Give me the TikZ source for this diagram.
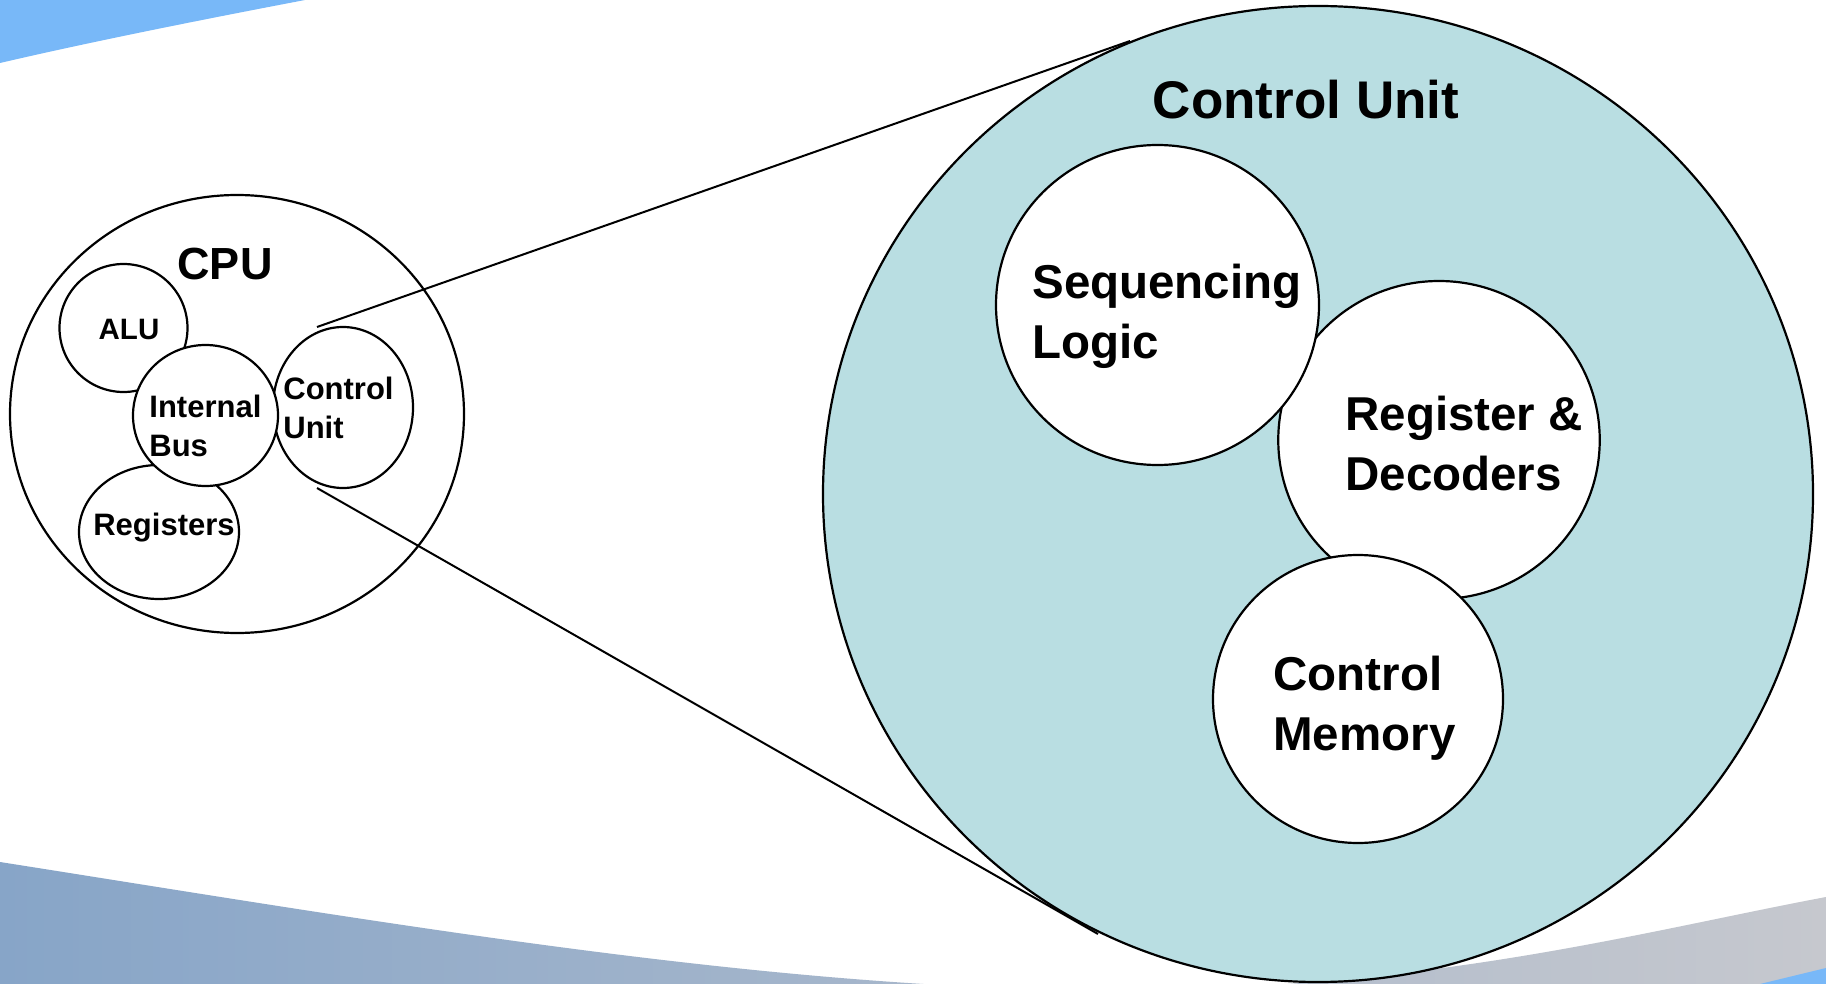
\documentclass[tikz,border=0pt]{standalone}
\usepackage{fontspec}
\setmainfont{Liberation Sans}
\usetikzlibrary{shapes.geometric}
\definecolor{cuFill}{RGB}{185,222,226}
\definecolor{swooshBlue}{RGB}{120,184,248}
\definecolor{bandLeft}{RGB}{135,165,200}
\definecolor{bandRight}{RGB}{198,200,206}

\begin{document}
\begin{tikzpicture}[x=0.5pt, y=-0.5pt,
  unit/.style = {draw, ellipse, fill=white, inner sep=0pt, line width=1.1pt},
  small/.style = {inner sep=0pt, align=left, font=\fontsize{15.5}{19.5}\selectfont\bfseries},
  big/.style = {inner sep=0pt, align=left, font=\fontsize{23.75}{29.75}\selectfont\bfseries},
  zoomline/.style = {line width=1pt}
  ]
\useasboundingbox (0,0) rectangle (1826,984);

% slide background
\fill[white] (0,0) rectangle (1826,984);
\fill[swooshBlue] (0,0) -- (305,0) .. controls (200,20) and (90,42) .. (0,63) -- cycle;
\shade[left color=bandLeft, right color=bandRight] (0,862) .. controls (400,925) and (800,995) .. (1150,990)
   .. controls (1450,985) and (1650,930) .. (1826,897) -- (1826,984) -- (0,984) -- cycle;
\fill[swooshBlue] (1760,984) -- (1826,968) -- (1826,984) -- cycle;

%--- CPU ---
\node[unit, minimum width=227pt, minimum height=219pt] (cpu) at (237,414) {};
\node[unit, minimum width=64pt, minimum height=64pt] (alu) at (123.5,328) {};
\node[unit, minimum width=80pt, minimum height=67pt] (regs) at (159,532) {};
\node[unit, minimum width=70pt, minimum height=80.5pt] (cu) at (343,407.5) {};
\node[unit, minimum width=72.5pt, minimum height=70.5pt] (bus) at (205.5,415.5) {};

\node[inner sep=0pt, font=\fontsize{22.5}{27}\selectfont\bfseries] (cpu_t) at (225,264) {CPU};
\node[inner sep=0pt, font=\fontsize{14.75}{18}\selectfont\bfseries] (alu_t) at (129,329) {ALU};
\node[small, anchor=north west] (bus_t) at (149,395) {Internal\\Bus};
\node[small, anchor=north west] (cu_t) at (283,377) {Control\\Unit};
\node[small, anchor=base] (regs_t) at (164,535) {Registers};

%--- Control Unit (zoomed) ---
\node[draw, ellipse, fill=cuFill, inner sep=0pt, line width=1.1pt, minimum width=495pt, minimum height=488pt] (cu_big) at (1318,494) {};
\node[unit, minimum width=160.75pt, minimum height=159pt] (regdec) at (1439,440) {};
\node[unit, minimum width=161.5pt, minimum height=160pt] (seq) at (1157.5,305) {};
\node[unit, minimum width=145pt, minimum height=144pt] (cmem) at (1358,699) {};

\node[inner sep=0pt, anchor=base, font=\fontsize{26.5}{32}\selectfont\bfseries] (cu_big_t) at (1306,119) {Control Unit};
\node[big, anchor=north west] (seq_t) at (1032,264) {Sequencing\\Logic};
\node[big, anchor=north west] (regdec_t) at (1345,396) {Register \&\\Decoders};
\node[big, anchor=north west] (cmem_t) at (1273,656) {Control\\Memory};

%--- zoom lines ---
\coordinate (cu_top) at (317,327);
\coordinate (cu_bot) at (317,488);
\coordinate (big_top) at (1130,41);
\coordinate (big_bot) at (1098,934);
\draw[zoomline] (cu_top) -- (big_top);
\draw[zoomline] (cu_bot) -- (big_bot);

\end{tikzpicture}
\end{document}
